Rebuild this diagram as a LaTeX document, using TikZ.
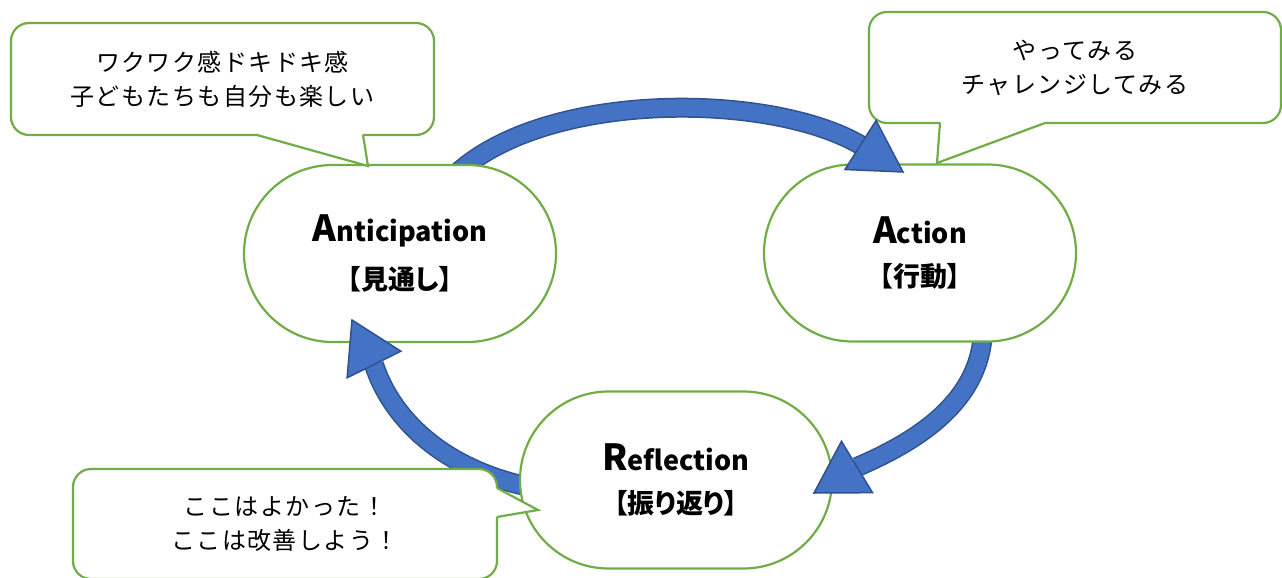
\documentclass[tikz,border=0pt]{standalone}
\usepackage{fontspec}
\newfontfamily\jp{Noto Sans CJK JP}
\newfontfamily\jpl{Noto Sans CJK JP}[LetterSpace=6]
\newfontfamily\jpp{Noto Sans CJK JP}[RawFeature=+palt]
\usetikzlibrary{shapes.misc,calc}
\definecolor{grn}{HTML}{70AD47}
\definecolor{blu}{HTML}{4472C4}
\definecolor{dblu}{HTML}{2F528F}
\newcommand{\stagelabel}[3]{{\jp\bfseries\fontsize{36}{36}\selectfont #1\fontsize{27}{27}\selectfont #2}\\[18pt]{\jpp\bfseries\fontsize{27}{27}\selectfont 【#3】}}
\begin{document}
\begin{tikzpicture}[x=1pt,y=-1pt,
  stage/.style={rounded rectangle, draw=grn, line width=2.2pt, fill=white,
    minimum width=312pt, minimum height=177pt, inner sep=0pt, align=center},
  callbox/.style={rectangle, rounded corners=18pt, draw=grn, line width=2.2pt, fill=white,
    inner sep=0pt, align=center, font=\jpl\fontsize{24}{34}\selectfont},
  shaftout/.style={draw=dblu, line width=20pt},
  shaftin/.style={draw=blu, line width=17pt},
  head/.style={fill=blu, draw=dblu, line width=1.5pt, line join=miter},
  ptrline/.style={draw=grn, line width=2.2pt, line join=miter}
]
\useasboundingbox (0,0) rectangle (1282,578);
\clip (0,0) rectangle (1282,578);

% arrow geometry
\coordinate (s1) at (455,175);
\coordinate (m1) at (860.5,145);
\coordinate (t1) at (903,172);
\coordinate (s2) at (983,330);
\coordinate (m2) at (857,467);
\coordinate (t2) at (814,493);
\coordinate (s3) at (535,488);
\coordinate (m3) at (374,364.5);
\coordinate (t3) at (352,320);

% shafts
\foreach \sty in {shaftout,shaftin}{
  \draw[\sty] (s1) .. controls (545,90) and (770,92) .. (m1);
  \draw[\sty] (s2) .. controls (981,400) and (920,440) .. (m2);
  \draw[\sty] (s3) .. controls (440,470) and (390,415) .. (m3);
}

% stages
\node[stage] (ant) at (400,253.5) {\stagelabel{A}{nticipation}{見通し}};
\node[stage] (act) at (920,253) {\stagelabel{A}{ction}{行動}};
\node[stage] (ref) at (676,480) {\stagelabel{R}{eflection}{振り返り}};

% callout 1
\node[callbox, minimum width=423pt, minimum height=112pt] (c1) at (222.5,79)
  {ワクワク感ドキドキ感\\子どもたちも自分も楽しい};
\coordinate (c1a) at (257,135);
\coordinate (c1t) at (368,166);
\coordinate (c1b) at (363,135);
\fill[white] ($(c1a)+(1,-4)$) -- ($(c1a)+(0,1)$) -- (c1t) -- ($(c1b)+(0,1)$) -- ($(c1b)+(-1,-4)$) -- cycle;
\draw[ptrline] (c1a) -- (c1t) -- (c1b);

% callout 2
\node[callbox, minimum width=412pt, minimum height=111pt] (c2) at (1075,67.5)
  {やってみる\\チャレンジしてみる};
\coordinate (c2a) at (940,123);
\coordinate (c2t) at (937,163);
\coordinate (c2b) at (1045,123);
\fill[white] ($(c2a)+(1,-4)$) -- ($(c2a)+(0,1)$) -- (c2t) -- ($(c2b)+(0,1)$) -- ($(c2b)+(-1,-4)$) -- cycle;
\draw[ptrline] (c2a) -- (c2t) -- (c2b);

% callout 3
\node[callbox, minimum width=424pt, minimum height=110pt] (c3) at (285,524)
  {ここはよかった！\\ここは改善しよう！};
\coordinate (c3a) at (497,488);
\coordinate (c3t) at (538,510);
\coordinate (c3b) at (497,517);
\fill[white] ($(c3a)+(-4,1)$) -- ($(c3a)+(1,0)$) -- (c3t) -- ($(c3b)+(1,0)$) -- ($(c3b)+(-4,-1)$) -- cycle;
\draw[ptrline] (c3a) -- (c3t) -- (c3b);

% arrowheads
\draw[head] ($(m1)!29pt!90:(t1)$) -- (t1) -- ($(m1)!29pt!-90:(t1)$) -- cycle;
\draw[head] ($(m2)!30pt!90:(t2)$) -- (t2) -- ($(m2)!30pt!-90:(t2)$) -- cycle;
\draw[head] ($(m3)!30pt!90:(t3)$) -- (t3) -- ($(m3)!30pt!-90:(t3)$) -- cycle;
\end{tikzpicture}
\end{document}
